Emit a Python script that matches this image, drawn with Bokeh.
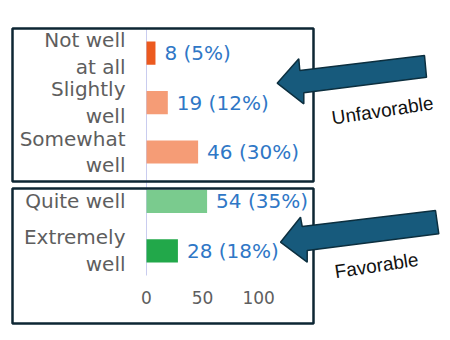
from bokeh.plotting import figure
from bokeh.models import ColumnDataSource, Range1d, PolyAnnotation, BoxAnnotation, Label
from bokeh.core.properties import value
from bokeh.embed import file_html
from bokeh.resources import INLINE

categories = ["Not well\nat all", "Slightly\nwell", "Somewhat\nwell", "Quite well", "Extremely\nwell"]
counts = [8, 19, 46, 54, 28]
percents = [5, 12, 30, 35, 18]
bar_colors = ["#ec5a1f", "#f59c76", "#f59c76", "#7acb8e", "#22a84a"]
x_ticks = [0, 50, 100]

FONT = "DejaVu Sans"
W, H = 450, 340

n = len(categories)
rows = [-i for i in range(n)]  # first category at top

src = ColumnDataSource(dict(
    row=rows,
    cat=categories,
    count=counts,
    color=bar_colors,
    label=[f"{c} ({p}%)" for c, p in zip(counts, percents)],
))

# frame covers the whole canvas; x: 0 at 146px, 1.122 px/unit; y: rows 49.4px apart
p = figure(width=W, height=H, output_backend="svg", toolbar_location=None,
           x_range=Range1d(-146 / 1.122, (W - 146) / 1.122),
           y_range=Range1d(-(H - 52.7) / 49.4, 52.7 / 49.4),
           min_border=0)
p.axis.visible = False
p.grid.visible = False
p.outline_line_color = None
p.background_fill_color = "white"
p.border_fill_color = "white"

# value axis line at x = 0
p.segment(x0=0, y0=0.5, x1=0, y1=-(n - 1) - 0.5, line_color="#c9ccef", line_width=1)

p.hbar(y="row", right="count", left=0, height=0.47, color="color", line_color=None, source=src)
p.text(x="count", y="row", text="label", source=src, x_offset=9,
       text_baseline="middle", text_align="left", text_color="#2f77c6",
       text_font=value(FONT), text_font_size="20px")

# category labels
p.text(x=0, y="row", text="cat", source=src, x_offset=-21,
       text_baseline="middle", text_align="right", text_color="#5e5e5e",
       text_font=value(FONT), text_font_size="20px", text_line_height=1.12)

# x tick labels
p.text(x=x_ticks, y=[-(n - 1)] * len(x_ticks), text=[str(t) for t in x_ticks],
       y_offset=47, text_baseline="middle", text_align="center", text_color="#5e5e5e",
       text_font=value(FONT), text_font_size="17px")

# group boxes
for top, bottom in [(28, 181), (188, 323)]:
    p.add_layout(BoxAnnotation(left=12, right=313, top=top, bottom=bottom,
                               left_units="canvas", right_units="canvas",
                               top_units="canvas", bottom_units="canvas",
                               fill_alpha=0, line_color="#0d2633", line_alpha=1,
                               line_width=2.5))

# arrows
arrow_up = ([276.7, 298.3, 299.3, 424, 426, 303.3, 303.3],
            [82.7, 58.3, 70, 55, 76.7, 92.3, 103.3])
arrow_dn = ([280, 300, 301.7, 435, 438.3, 306.7, 306.7],
            [241.7, 216.7, 226, 210, 233.3, 250, 261.7])
for xs, ys in [arrow_up, arrow_dn]:
    p.add_layout(PolyAnnotation(xs=xs, ys=ys, xs_units="canvas", ys_units="canvas",
                                fill_color="#175a7c", fill_alpha=1,
                                line_color="#0c2f3f", line_alpha=1, line_width=1.5))

for txt, x, y in [("Unfavorable", 382, 110), ("Favorable", 376, 265)]:
    p.add_layout(Label(x=x, y=y, x_units="canvas", y_units="canvas", text=txt,
                       angle=0.15, text_align="center", text_baseline="middle",
                       text_font="Liberation Sans", text_font_size="19px",
                       text_color="#111111"))

open("out.html", "w").write(file_html(p, INLINE))
